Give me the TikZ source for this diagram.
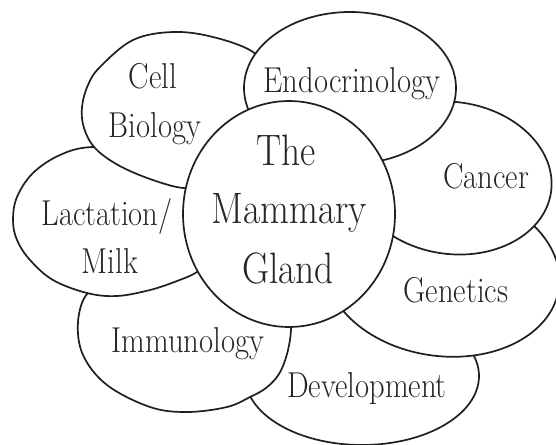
\documentclass[tikz,border=0pt]{standalone}
\usepackage{graphicx}
\newcommand{\nar}[1]{\scalebox{0.85}[1]{#1}}
\begin{document}
\begin{tikzpicture}[x=1pt,y=-1pt,
  petal/.style={draw=black!88, line width=1.7pt, fill=white},
  ptext/.style={anchor=base, inner sep=0pt, font=\fontsize{36}{40}\selectfont, text=black!85},
  ctext/.style={anchor=base, inner sep=0pt, font=\fontsize{44}{48}\selectfont, text=black!85}]
\useasboundingbox (0,0) rectangle (556,444);
\fill[white] (0,0) rectangle (556,444);
\clip (0,0) rectangle (556,444);
% Development (bottom-most)
\draw[petal] (362,376) ellipse [x radius=117pt, y radius=69pt];
% Genetics
\draw[petal, rotate around={-8:(442,272)}] (442,272) ellipse [x radius=118pt, y radius=84pt];
% Immunology
\draw[petal] plot[smooth cycle, tension=0.6] coordinates {
  (87,294) (78,322) (83,355) (107,385) (150,407) (187,412) (227,407)
  (250,397) (266,388) (279,374) (287,354) (291,330) (290,305) (280,282)
  (250,266) (200,263) (150,273) (110,284)};
% Cancer
\draw[petal, rotate around={-8:(452,178)}] (452,178) ellipse [x radius=100pt, y radius=76pt];
% Lactation / Milk
\draw[petal] plot[smooth cycle, tension=0.6] coordinates {
  (92,147) (60,155) (33,173) (17,197) (13,220) (17,240) (30,260) (53,280)
  (87,293) (117,296) (150,290) (177,281) (197,272) (210,258) (217,235)
  (214,205) (195,172) (150,150)};
% Cell Biology
\draw[petal] plot[smooth cycle, tension=0.6] coordinates {
  (173,32) (213,37) (253,52) (268,75) (272,105) (258,140) (230,170) (205,184)
  (183,188) (150,179) (118,165) (95,148) (84,128) (82,107) (88,85) (100,67) (133,40)};
% Endocrinology (top-most petal)
\draw[petal] (350,88) ellipse [x radius=106pt, y radius=76pt];
% Centre
\draw[petal] (289,214) ellipse [x radius=106pt, y radius=113pt];
% Texts
\node[ptext] (cell) at (153,88) {\nar{Cell}};
\node[ptext] (biology) at (155,137) {\nar{Biology}};
\node[ptext] (endo) at (352,92) {\nar{Endocrinology}};
\node[ptext] (cancer) at (486,188) {\nar{Cancer}};
\node[ptext] (lact) at (107,225) {\nar{Lactation/}};
\node[ptext] (milk) at (110,273) {\nar{Milk}};
\node[ptext] (immuno) at (188,352) {\nar{Immunology}};
\node[ptext] (genetics) at (456,302) {\nar{Genetics}};
\node[ptext] (devel) at (367,397) {\nar{Development}};
\node[ctext] (the) at (286,165) {\nar{The}};
\node[ctext] (mammary) at (289,223) {\nar{Mammary}};
\node[ctext] (gland) at (288,283) {\nar{Gland}};
\end{tikzpicture}
\end{document}
